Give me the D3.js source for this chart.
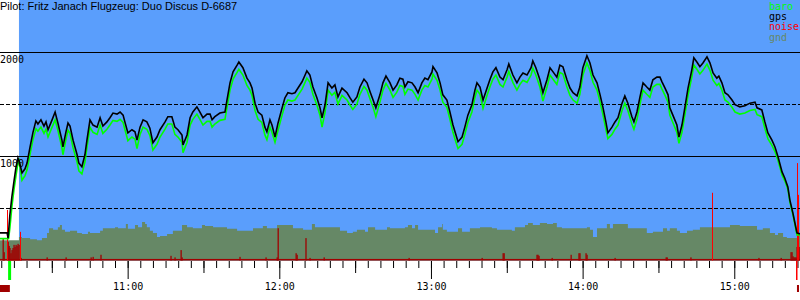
<!DOCTYPE html>
<html>
<head>
<meta charset="utf-8">
<script src="https://cdnjs.cloudflare.com/ajax/libs/d3/7.8.5/d3.min.js"></script>
<style>
  body { margin: 0; background: #fff; }
  svg { display: block; }
  .mono { font-family: "DejaVu Sans Mono", monospace; font-size: 10px; }
</style>
</head>
<body>
<script>
const w = 800;
const h = 300;
const title = "Pilot: Fritz Janach Flugzeug: Duo Discus D-6687";
const legendVals = ["baro", "gps", "noise", "gnd"];
const legendColor = ["#00ff00", "#000000", "#ff0000", "#668866"];

// times are minutes after 10:00
const startTime = 9.5;
const endTime = 326.0;
const flightStart = 17.0;
const takeoff = 13.3;
const landing = 324.9;
const engineMarks = [[9.5, 13.4], [324.8, 325.6]];

const solidAlts = [1000, 2000];
const dashedAlts = [500, 1500];
const altLabels = ["1000", "2000"];
const hourTicks = [60, 120, 180, 240, 300];
const hourLabels = ["11:00", "12:00", "13:00", "14:00", "15:00"];
const halfTicks = [30, 90, 150, 210, 270];

const gps = [
  [9.5,265],[12.3,265],[12.7,215],[13.4,435],[14.2,610],[15.0,755],[15.8,890],[16.6,985],[17.4,925],[18.2,840],
  [19.4,880],[20.2,935],[21.4,1090],[22.5,1225],[23.7,1340],[24.5,1310],[25.7,1350],[26.9,1290],[27.7,1330],[28.5,1255],
  [30.1,1350],[31.3,1425],[32.4,1320],[34.0,1155],[34.4,1090],[35.6,1235],[36.4,1320],[37.2,1290],[38.4,1155],[40.0,1015],
  [40.7,935],[41.9,900],[43.1,1015],[43.9,1155],[45.1,1350],[46.3,1300],[47.9,1280],[49.1,1370],[50.2,1290],[51.8,1330],
  [53.0,1370],[54.2,1415],[55.8,1405],[57.0,1425],[58.2,1395],[58.9,1330],[60.1,1225],[61.7,1255],[62.9,1235],[63.7,1155],
  [64.9,1280],[66.1,1350],[67.6,1330],[68.8,1270],[70.0,1130],[71.6,1185],[72.8,1255],[74.8,1330],[75.9,1380],[77.5,1380],
  [78.7,1280],[79.9,1255],[81.5,1205],[81.9,1110],[83.5,1205],[84.7,1370],[85.8,1425],[87.4,1475],[88.6,1425],[89.8,1370],
  [91.4,1405],[92.6,1405],[93.4,1350],[94.5,1380],[96.5,1415],[98.5,1425],[99.3,1540],[100.5,1705],[101.7,1810],[103.3,1875],
  [104.0,1905],[105.6,1850],[107.2,1750],[108.4,1705],[109.2,1655],[110.4,1510],[111.6,1425],[113.1,1395],[114.3,1280],[115.1,1235],
  [116.3,1350],[117.1,1300],[118.3,1185],[119.5,1320],[121.1,1465],[122.2,1560],[123.4,1610],[125.0,1600],[126.2,1610],[127.4,1655],
  [129.0,1715],[130.2,1780],[130.9,1820],[132.1,1780],[133.3,1665],[134.9,1560],[136.1,1465],[136.9,1370],[138.1,1495],[139.3,1705],
  [140.8,1655],[142.0,1685],[143.2,1570],[144.8,1655],[146.8,1610],[148.0,1560],[149.1,1520],[150.7,1570],[151.9,1665],[153.5,1740],
  [154.7,1705],[155.9,1620],[157.1,1540],[158.2,1465],[159.8,1590],[161.0,1705],[162.2,1770],[163.8,1705],[165.0,1635],[166.5,1685],
  [167.7,1750],[168.9,1740],[169.7,1665],[170.9,1715],[172.5,1705],[173.7,1665],[174.9,1610],[176.4,1705],[177.6,1750],[178.8,1735],
  [180.4,1810],[180.8,1860],[182.4,1800],[183.6,1705],[184.7,1590],[186.3,1540],[187.5,1425],[188.7,1300],[189.9,1205],[190.7,1140],
  [192.3,1185],[193.4,1280],[194.6,1395],[196.2,1495],[197.4,1635],[198.2,1705],[199.4,1665],[200.6,1540],[202.2,1655],[203.3,1735],
  [204.5,1810],[205.7,1850],[207.3,1760],[208.5,1735],[210.1,1830],[210.8,1885],[212.4,1780],[214.0,1705],[215.2,1760],[216.4,1800],
  [218.0,1780],[219.6,1850],[220.3,1915],[221.5,1850],[223.1,1735],[224.3,1610],[225.9,1735],[227.1,1850],[228.3,1810],[229.8,1760],
  [231.0,1875],[232.2,1860],[233.8,1735],[235.0,1655],[236.2,1610],[237.8,1580],[238.9,1665],[240.1,1850],[241.7,1965],[242.9,1895],
  [244.1,1780],[245.7,1705],[246.9,1590],[248.0,1475],[249.2,1330],[250.0,1225],[251.6,1280],[252.8,1330],[254.0,1370],[255.6,1510],
  [256.7,1580],[257.9,1510],[259.5,1380],[260.3,1330],[261.5,1425],[262.7,1570],[263.9,1705],[265.4,1665],[266.6,1635],[267.8,1735],
  [269.4,1760],[270.6,1760],[271.4,1715],[272.6,1655],[273.8,1590],[274.5,1465],[275.7,1395],[277.3,1300],[278.1,1185],[279.3,1300],
  [280.5,1475],[281.7,1655],[283.2,1830],[284.0,1945],[285.2,1905],[286.4,1860],[287.6,1895],[289.2,1955],[290.4,1895],[291.6,1800],
  [293.1,1750],[293.9,1770],[295.1,1705],[296.3,1610],[297.5,1590],[299.1,1540],[300.3,1495],[302.2,1475],[304.2,1485],[306.2,1510],
  [308.2,1520],[309.0,1465],[310.9,1445],[312.1,1330],[313.3,1225],[314.9,1155],[316.1,1090],[317.3,995],[318.9,850],[320.0,790],
  [321.2,705],[322.0,580],[323.2,455],[324.0,360],[324.8,265],[326.0,255]
];

const baro = [
  [9.5,210],[12.9,210],[13.4,310],[14.2,515],[15.0,675],[15.8,810],[16.6,935],[17.0,960],[18.2,770],
  [19.4,815],[20.2,870],[21.4,1020],[22.5,1155],[23.7,1265],[24.5,1240],[25.7,1280],[26.9,1220],[27.7,1260],[28.5,1185],
  [30.1,1280],[31.3,1350],[32.4,1250],[34.0,1085],[34.4,1015],[35.6,1165],[36.4,1250],[37.2,1220],[38.4,1085],[40.0,945],
  [40.7,860],[41.9,830],[43.1,945],[43.9,1085],[45.1,1280],[46.3,1230],[47.9,1210],[49.1,1300],[50.2,1220],[51.8,1260],
  [53.0,1300],[54.2,1345],[55.8,1335],[57.0,1355],[58.2,1325],[58.9,1260],[60.1,1150],[61.7,1185],[62.9,1165],[63.7,1075],
  [64.9,1210],[66.1,1280],[67.6,1260],[68.8,1200],[70.0,1060],[71.6,1115],[72.8,1185],[74.8,1260],[75.9,1310],[77.5,1310],
  [78.7,1210],[79.9,1185],[81.5,1135],[81.9,1035],[83.5,1135],[84.7,1300],[85.8,1355],[87.4,1405],[88.6,1355],[89.8,1300],
  [91.4,1335],[92.6,1335],[93.4,1280],[94.5,1310],[96.5,1345],[98.5,1355],[99.3,1470],[100.5,1635],[101.7,1740],[103.3,1805],
  [104.0,1835],[105.6,1780],[107.2,1680],[108.4,1635],[109.2,1585],[110.4,1440],[111.6,1355],[113.1,1325],[114.3,1205],[115.1,1160],
  [116.3,1280],[117.1,1230],[118.3,1135],[119.5,1250],[121.1,1395],[122.2,1490],[123.4,1540],[125.0,1530],[126.2,1540],[127.4,1585],
  [129.0,1645],[130.2,1710],[130.9,1750],[132.1,1710],[133.3,1595],[134.9,1490],[136.1,1395],[136.9,1280],[138.1,1425],[139.3,1635],
  [140.8,1585],[142.0,1615],[143.2,1500],[144.8,1585],[146.8,1540],[148.0,1490],[149.1,1450],[150.7,1500],[151.9,1595],[153.5,1670],
  [154.7,1635],[155.9,1550],[157.1,1470],[158.2,1380],[159.8,1520],[161.0,1635],[162.2,1700],[163.8,1635],[165.0,1565],[166.5,1615],
  [167.7,1680],[168.9,1670],[169.7,1595],[170.9,1645],[172.5,1635],[173.7,1595],[174.9,1540],[176.4,1635],[177.6,1680],[178.8,1665],
  [180.4,1740],[180.8,1790],[182.4,1730],[183.6,1635],[184.7,1520],[186.3,1470],[187.5,1355],[188.7,1230],[189.9,1135],[190.7,1075],
  [192.3,1115],[193.4,1210],[194.6,1325],[196.2,1425],[197.4,1565],[198.2,1635],[199.4,1595],[200.6,1460],[202.2,1585],[203.3,1665],
  [204.5,1740],[205.7,1780],[207.3,1690],[208.5,1665],[210.1,1760],[210.8,1815],[212.4,1710],[214.0,1635],[215.2,1690],[216.4,1730],
  [218.0,1710],[219.6,1780],[220.3,1845],[221.5,1780],[223.1,1665],[224.3,1530],[225.9,1665],[227.1,1780],[228.3,1740],[229.8,1690],
  [231.0,1805],[232.2,1790],[233.8,1665],[235.0,1585],[236.2,1540],[237.8,1510],[238.9,1595],[240.1,1780],[241.7,1895],[242.9,1825],
  [244.1,1710],[245.7,1635],[246.9,1520],[248.0,1405],[249.2,1260],[250.0,1170],[251.6,1210],[252.8,1260],[254.0,1300],[255.6,1440],
  [256.7,1510],[257.9,1440],[259.5,1310],[260.3,1260],[261.5,1355],[262.7,1500],[263.9,1635],[265.4,1595],[266.6,1565],[267.8,1665],
  [269.4,1690],[270.6,1690],[271.4,1645],[272.6,1585],[273.8,1520],[274.5,1395],[275.7,1325],[277.3,1230],[278.1,1125],[279.3,1230],
  [280.5,1405],[281.7,1585],[283.2,1760],[284.0,1875],[285.2,1835],[286.4,1790],[287.6,1825],[289.2,1885],[290.4,1825],[291.6,1730],
  [293.1,1680],[293.9,1700],[295.1,1635],[296.3,1540],[297.5,1520],[299.1,1470],[300.3,1425],[302.2,1405],[304.2,1415],[306.2,1440],
  [308.2,1450],[309.0,1400],[310.9,1380],[312.1,1270],[313.3,1170],[314.9,1105],[316.1,1045],[317.3,960],[318.9,820],[320.0,765],
  [321.2,685],[322.0,560],[323.2,440],[324.0,345],[324.8,245],[326.0,245]
];

const gnd = [
  [9.5,195],[17.0,225],[18.2,215],[21.4,205],[24.1,195],[26.1,215],[28.1,265],[28.9,310],[30.5,295],[32.4,320],
  [33.2,340],[34.0,295],[35.2,275],[37.2,285],[40.0,265],[41.9,255],[44.3,275],[45.1,265],[49.1,285],[50.2,310],
  [55.0,320],[56.2,310],[59.3,350],[60.1,305],[62.9,340],[64.1,320],[65.7,370],[66.9,350],[67.6,320],[68.8,285],
  [70.0,265],[71.6,225],[72.8,235],[75.6,255],[77.9,285],[81.5,340],[83.5,320],[85.8,310],[89.4,340],[90.6,330],
  [93.8,320],[99.3,305],[103.3,285],[109.6,310],[113.5,330],[115.1,310],[119.1,340],[125.4,310],[129.4,295],[132.9,350],
  [134.1,320],[144.0,285],[146.8,265],[149.1,275],[150.7,295],[153.9,275],[155.1,320],[157.9,295],[162.6,320],[163.8,310],
  [169.7,320],[170.9,340],[172.5,310],[173.7,340],[174.9,295],[181.6,265],[182.8,320],[184.4,350],[184.7,295],[186.3,275],
  [190.7,310],[192.3,275],[195.4,310],[199.4,320],[204.1,310],[206.1,295],[212.0,285],[213.2,320],[217.2,340],[218.4,360],
  [220.3,340],[223.1,360],[225.9,350],[228.3,360],[229.8,320],[231.8,310],[241.7,320],[242.9,295],[244.1,225],[245.7,310],
  [249.6,350],[250.8,310],[252.0,350],[257.9,310],[265.4,265],[267.8,275],[271.8,310],[273.4,285],[274.5,310],[277.3,285],
  [278.5,265],[281.3,285],[283.6,295],[286.4,320],[298.3,340],[302.2,330],[309.0,295],[311.3,310],[314.1,265],[316.1,245],
  [317.3,265],[319.3,225],[320.8,215],[324.8,245],[326.0,245]
];

const noiseFloor = 15;
const noise = [
  [10.7,215],[11.1,80],[12.7,180],[13.1,140],[13.4,120],[13.8,70],[14.2,100],[14.6,120],[15.0,150],[15.4,130],
  [15.8,150],[16.2,140],[16.6,160],[17.0,150],[17.8,25],[28.1,30],[35.6,30],[45.5,30],[46.3,35],[49.4,55],
  [77.1,45],[78.7,30],[81.1,100],[81.5,30],[104.4,35],[114.7,30],[119.1,30],[119.5,310],[126.6,70],[127.0,55],
  [130.5,215],[132.1,25],[137.7,30],[171.3,25],[200.2,25],[208.5,70],[208.9,70],[221.9,55],[222.3,55],[222.7,45],
  [227.9,25],[235.4,55],[238.5,70],[238.9,70],[241.3,70],[241.7,55],[252.8,25],[273.0,30],[273.4,30],[282.8,30],
  [309.7,25],[318.5,25],[322.4,80],[322.8,80],[323.2,40],[323.6,30],[324.0,30],[324.4,30],[324.8,130],[325.2,130],[325.6,130]
];
const noisePeaks = [[12.3,485],[17.4,275],[291.2,650],[324.8,935],[325.2,630]];

const xScale = d3.scaleLinear()
                 .domain([startTime, endTime])
                 .range([0, w]);

const yScale = d3.scaleLinear()
                 .domain([0, 2500])
                 .range([260.5, 0]);

const svg = d3.select("body")
              .append("svg")
              .attr("width", w)
              .attr("height", h);

svg.append("rect")
   .attr("x", xScale(flightStart))
   .attr("y", 0)
   .attr("width", w - xScale(flightStart))
   .attr("height", yScale(0))
   .attr("fill", "#5a9efc");

const gndArea = d3.area()
                  .curve(d3.curveStepAfter)
                  .x(d => xScale(d[0]))
                  .y0(yScale(0))
                  .y1(d => yScale(d[1]));

svg.append("path")
   .datum(gnd)
   .attr("d", gndArea)
   .attr("fill", legendColor[3]);

svg.append("rect")
   .attr("x", 0)
   .attr("y", yScale(noiseFloor))
   .attr("width", w)
   .attr("height", yScale(0) - yScale(noiseFloor))
   .attr("fill", "#a00000");

svg.selectAll(".noise")
   .data(noise)
   .enter()
   .append("rect")
   .attr("class", "noise")
   .attr("x", d => xScale(d[0]) - 0.5)
   .attr("y", d => yScale(d[1]))
   .attr("width", 1.3)
   .attr("height", d => yScale(0) - yScale(d[1]))
   .attr("fill", "#a00000");

svg.selectAll(".peak")
   .data(noisePeaks)
   .enter()
   .append("rect")
   .attr("class", "peak")
   .attr("x", d => Math.round(xScale(d[0])))
   .attr("y", d => yScale(d[1]))
   .attr("width", 1)
   .attr("height", d => yScale(0) - yScale(d[1]))
   .attr("fill", legendColor[2]);

svg.selectAll(".solid")
   .data(solidAlts)
   .enter()
   .append("line")
   .attr("x1", 0)
   .attr("x2", w)
   .attr("y1", d => Math.floor(yScale(d)) + 0.5)
   .attr("y2", d => Math.floor(yScale(d)) + 0.5)
   .attr("stroke", "#000")
   .attr("stroke-width", 1);

svg.selectAll(".dashed")
   .data(dashedAlts)
   .enter()
   .append("line")
   .attr("x1", 0)
   .attr("x2", w)
   .attr("y1", d => Math.floor(yScale(d)) + 0.5)
   .attr("y2", d => Math.floor(yScale(d)) + 0.5)
   .attr("stroke", "#000")
   .attr("stroke-width", 1)
   .attr("stroke-dasharray", "4,2");

const altLine = d3.line()
                  .x(d => xScale(d[0]))
                  .y(d => yScale(d[1]));

svg.append("path")
   .datum(baro)
   .attr("d", altLine)
   .attr("fill", "none")
   .attr("stroke", legendColor[0])
   .attr("stroke-width", 1.6);

svg.append("path")
   .datum(gps)
   .attr("d", altLine)
   .attr("fill", "none")
   .attr("stroke", legendColor[1])
   .attr("stroke-width", 1.6);

svg.selectAll(".altlabel")
   .data(solidAlts)
   .enter()
   .append("text")
   .attr("class", "mono")
   .attr("x", 0)
   .attr("y", d => yScale(d) + 10.5)
   .text((d, i) => altLabels[i]);

svg.append("text")
   .attr("x", 0)
   .attr("y", 9.5)
   .style("font-family", "'Liberation Sans', Arial, sans-serif")
   .style("font-size", "11px")
   .text(title);

svg.selectAll(".legend")
   .data(legendVals)
   .enter()
   .append("text")
   .attr("class", "mono")
   .attr("x", 769)
   .attr("y", (d, i) => 10 + i * 10.2)
   .attr("fill", (d, i) => legendColor[i])
   .text(d => d);

// time axis: 5 min, half hour, hour ticks
const axisY = 261;
const minorAxis = d3.axisBottom(xScale)
                    .tickValues(d3.range(10, endTime, 5))
                    .tickSize(7)
                    .tickFormat("");
const halfAxis = d3.axisBottom(xScale)
                   .tickValues(halfTicks)
                   .tickSize(12)
                   .tickFormat("");
const hourAxis = d3.axisBottom(xScale)
                   .tickValues(hourTicks)
                   .tickSize(18)
                   .tickPadding(4)
                   .tickFormat((d, i) => hourLabels[i]);

[minorAxis, halfAxis, hourAxis].forEach(a => {
  const g = svg.append("g")
               .attr("transform", "translate(0," + axisY + ")")
               .call(a);
  g.select(".domain").remove();
  g.selectAll("text")
   .attr("class", "mono")
   .attr("fill", "#000")
   .attr("font-family", null)
   .attr("font-size", null);
});

svg.append("rect")
   .attr("x", xScale(takeoff) - 1.5)
   .attr("y", axisY)
   .attr("width", 3)
   .attr("height", 19)
   .attr("fill", legendColor[0]);

svg.append("rect")
   .attr("x", Math.round(xScale(landing)) - 1)
   .attr("y", axisY)
   .attr("width", 1.5)
   .attr("height", 19)
   .attr("fill", legendColor[2]);

svg.selectAll(".engine")
   .data(engineMarks)
   .enter()
   .append("rect")
   .attr("x", d => xScale(d[0]))
   .attr("y", 285)
   .attr("width", d => Math.max(2, xScale(d[1]) - xScale(d[0])))
   .attr("height", 7)
   .attr("fill", "#a00000");
</script>
</body>
</html>
